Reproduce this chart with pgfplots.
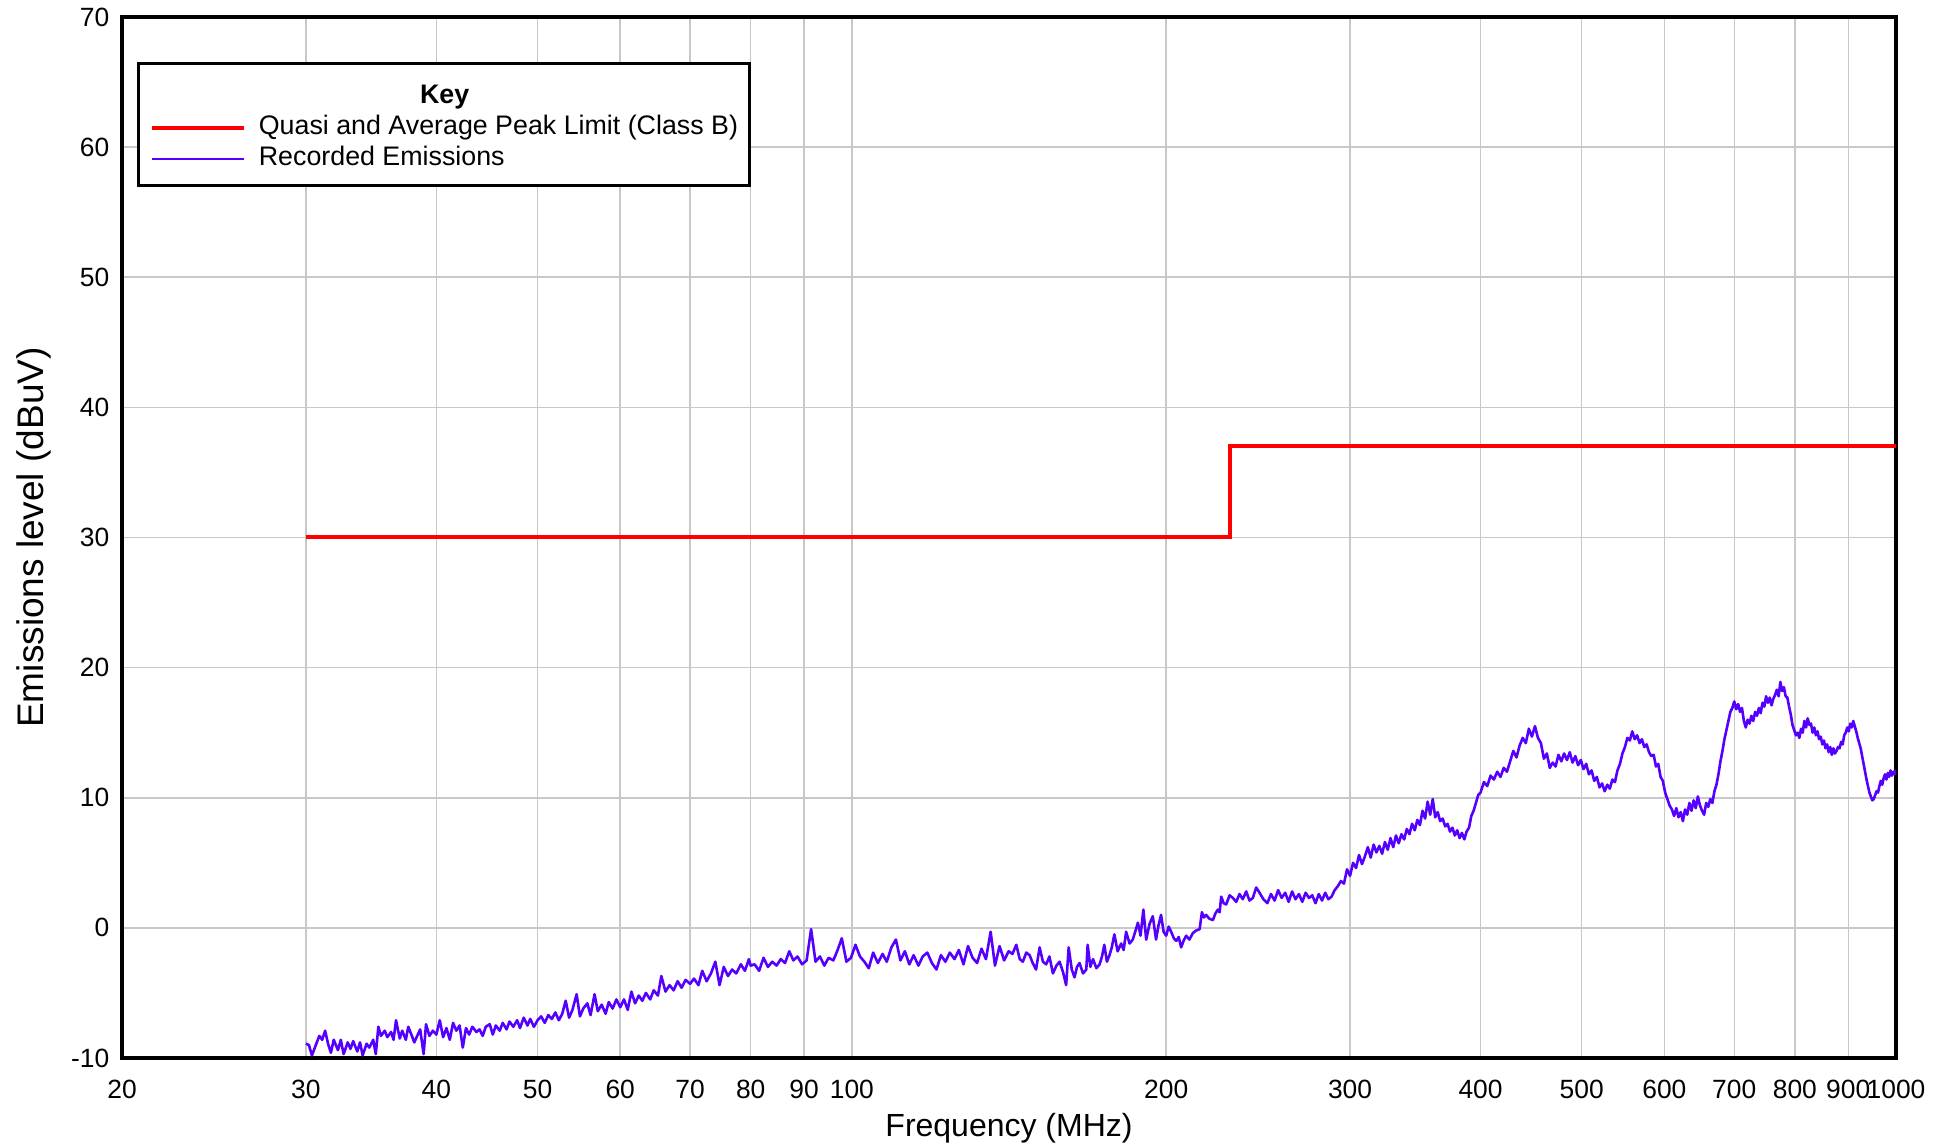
\documentclass[border=0pt]{standalone}
\usepackage{fontspec}
\setmainfont{Liberation Sans}
\usepackage{pgfplots}
\pgfplotsset{compat=1.18}
\definecolor{limred}{RGB}{255,0,0}
\definecolor{emblue}{RGB}{85,0,255}
\definecolor{gridgray}{RGB}{200,200,200}
\begin{document}
\begin{tikzpicture}
\useasboundingbox (-61pt,-43.5pt) rectangle (915pt,529pt);
\begin{axis}[
  at={(0,0)}, anchor=south west,
  scale only axis, width=887pt, height=520.5pt,
  xmode=log, xmin=20, xmax=1000, ymin=-10, ymax=70,
  xtick={20,30,40,50,60,70,80,90,100,200,300,400,500,600,700,800,900,1000},
  xticklabels={20,30,40,50,60,70,80,90,100,200,300,400,500,600,700,800,900,1000},
  minor xtick={},
  ytick={-10,0,10,20,30,40,50,60,70},
  yticklabels={-10,0,10,20,30,40,50,60,70},
  grid=major,
  major grid style={draw=gridgray, line width=0.75pt},
  axis line style={line width=1.9pt},
  major tick length=0pt, minor tick length=0pt,
  xticklabel style={font=\fontsize{13.2}{15}\selectfont, anchor=center, yshift=-15.5pt},
  yticklabel style={font=\fontsize{13.2}{15}\selectfont, anchor=east, inner sep=0pt, xshift=-6.2pt},
  xlabel={Frequency (MHz)},
  xlabel style={at={(axis description cs:0.5,-0.067)}, anchor=center, font=\fontsize{16}{19}\selectfont},
  ylabel={Emissions level (dBuV)},
  ylabel style={at={(axis description cs:-0.0495,0.5)}, anchor=center, font=\fontsize{18.5}{22}\selectfont},
  legend image code/.code={\draw[#1] (0pt,-1.6pt) -- (46pt,-1.6pt);},
  legend cell align=left,
  legend style={at={(axis description cs:0.0085,0.9568)}, anchor=north west,
    draw=black, line width=1.6pt, fill=white,
    inner xsep=5.8pt, inner ysep=7pt, row sep=0pt, column sep=6.3pt,
    nodes={inner sep=0pt, text height=12.9pt, text depth=2.7pt, font=\fontsize{13.4}{15.6}\selectfont}},
]
\addlegendimage{empty legend}
\addlegendentry{\hspace*{92.9pt}\makebox[0pt][c]{\bfseries Key}}

\addplot[limred, line width=2pt] coordinates {(30,30) (230,30) (230,37) (1000,37)};
\addlegendentry{Quasi and Average Peak Limit (Class B)}

\addlegendimage{emblue, line width=0.8pt}
\addlegendentry{Recorded Emissions}

\addplot[emblue, line width=1.3pt, line join=round, forget plot] table {
f v
30.0 -8.9
30.2 -9.0
30.4 -9.8
30.6 -9.2
30.9 -8.3
31.1 -8.6
31.3 -7.9
31.5 -8.9
31.7 -9.6
31.9 -8.6
32.2 -9.4
32.4 -8.6
32.6 -9.7
32.9 -8.8
33.1 -9.3
33.3 -8.7
33.6 -9.5
33.8 -8.8
34.0 -9.8
34.3 -8.9
34.5 -9.2
34.8 -8.6
35.0 -9.7
35.2 -7.6
35.4 -8.3
35.7 -7.9
35.9 -8.4
36.2 -8.0
36.4 -8.6
36.6 -7.1
36.9 -8.5
37.1 -7.9
37.4 -8.6
37.6 -7.6
37.9 -8.3
38.1 -8.8
38.4 -8.2
38.6 -7.8
38.9 -9.7
39.1 -7.4
39.4 -8.3
39.7 -7.9
40.0 -8.2
40.3 -7.1
40.6 -8.4
40.9 -7.7
41.2 -8.6
41.5 -7.3
41.8 -7.9
42.1 -7.5
42.4 -9.2
42.7 -7.7
43.0 -8.2
43.3 -7.6
43.7 -8.0
44.0 -7.8
44.3 -8.3
44.6 -7.6
45.0 -7.4
45.3 -8.2
45.6 -7.5
46.0 -7.9
46.3 -7.3
46.7 -7.8
47.0 -7.2
47.4 -7.6
47.8 -7.1
48.1 -7.7
48.5 -6.9
48.9 -7.5
49.2 -7.0
49.6 -7.6
50.0 -7.1
50.4 -6.8
50.8 -7.3
51.2 -6.7
51.6 -7.0
52.0 -6.5
52.4 -7.1
52.8 -6.6
53.2 -5.6
53.6 -6.9
54.0 -6.3
54.5 -5.1
54.9 -6.8
55.3 -6.2
55.8 -5.8
56.2 -6.7
56.7 -5.1
57.1 -6.4
57.6 -5.9
58.1 -6.6
58.5 -5.7
59.0 -6.2
59.5 -5.5
60.0 -6.1
60.5 -5.5
61.0 -6.3
61.5 -4.9
62.0 -5.8
62.5 -5.2
63.0 -5.6
63.5 -5.0
64.1 -5.5
64.6 -4.8
65.2 -5.2
65.7 -3.7
66.3 -4.9
66.9 -4.4
67.5 -4.8
68.1 -4.1
68.7 -4.6
69.3 -4.0
70.0 -4.3
70.6 -3.9
71.3 -4.4
71.9 -3.3
72.6 -4.1
73.3 -3.5
74.0 -2.6
74.7 -4.4
75.4 -3.0
76.1 -3.7
76.8 -3.2
77.5 -3.5
78.3 -2.8
79.0 -3.3
79.7 -2.4
80.0 -2.9
80.7 -2.8
81.5 -3.3
82.3 -2.3
83.1 -3.0
83.9 -2.6
84.7 -2.9
85.5 -2.4
86.3 -2.7
87.1 -1.8
87.9 -2.5
88.7 -2.2
89.6 -2.8
90.5 -2.5
91.4 -0.1
92.3 -2.6
93.2 -2.2
94.1 -2.9
95.0 -2.3
96.0 -2.5
96.9 -1.7
97.8 -0.8
98.8 -2.6
99.8 -2.3
100.8 -1.3
101.8 -2.2
102.8 -2.6
103.8 -3.1
104.8 -1.9
105.9 -2.7
107.0 -2.0
108.0 -2.6
109.1 -1.5
110.2 -0.9
111.3 -2.5
112.4 -1.8
113.5 -2.8
114.6 -2.1
115.8 -2.9
116.9 -2.2
118.1 -1.9
119.3 -2.7
120.5 -3.2
121.7 -2.1
122.9 -2.6
124.1 -1.9
125.4 -2.4
126.6 -1.7
127.9 -2.8
129.2 -1.4
130.5 -2.3
131.8 -2.7
133.1 -1.6
134.4 -2.4
135.8 -0.3
137.1 -2.9
138.5 -1.4
139.9 -2.5
141.3 -1.8
142.5 -2.0
143.7 -1.3
144.8 -2.4
145.8 -2.6
146.9 -1.9
148.0 -2.1
149.0 -2.7
150.1 -3.2
151.3 -1.5
152.4 -2.6
153.5 -2.8
154.6 -2.2
155.8 -3.5
157.0 -2.9
158.1 -2.6
159.3 -3.4
160.4 -4.4
161.3 -1.5
162.4 -3.2
163.4 -3.8
164.3 -3.0
165.2 -2.7
166.5 -3.5
167.7 -3.2
168.2 -1.3
169.2 -3.0
170.2 -2.4
171.5 -3.1
172.7 -2.8
173.6 -2.2
174.5 -1.3
175.5 -2.6
176.5 -2.1
177.4 -1.5
178.4 -0.5
179.7 -1.8
181.1 -1.2
182.1 -1.7
183.1 -0.3
184.5 -1.2
185.8 -0.9
186.8 -0.3
187.9 0.4
189.0 -0.6
190.2 1.4
191.4 -0.9
192.8 0.3
194.2 0.9
195.6 -0.9
196.7 0.2
197.8 1.0
198.9 -0.3
200.0 -0.6
201.1 0.1
202.2 -0.3
203.4 -0.8
204.5 -1.0
205.6 -0.7
206.7 -1.5
207.8 -1.0
209.0 -0.6
210.5 -0.9
212.1 -0.4
213.7 -0.2
215.3 -0.1
216.4 1.2
217.4 0.8
218.4 1.0
220.0 0.7
221.7 0.6
222.9 1.1
224.1 1.4
225.0 1.2
225.8 2.4
227.0 1.9
228.3 1.8
230.0 2.5
231.7 2.3
233.4 2.0
235.1 2.6
236.8 2.2
238.6 2.8
240.3 2.1
242.1 2.3
243.9 3.1
245.7 2.7
247.8 2.2
250.0 1.9
252 2.6
254 2.1
256 2.9
258 2.3
260 2.7
262 2.0
264 2.8
266 2.2
268 2.6
270 2.0
272 2.7
274 2.3
276 2.5
278 1.9
280 2.6
282 2.1
284 2.7
286 2.2
288 2.4
290 2.9
292 3.2
294 3.6
296 3.4
298 4.5
300 4.0
302 5.0
304 4.6
306 5.6
308 4.9
310 5.5
312 6.2
314 5.4
316 6.4
318 5.8
320 6.3
322 5.7
324 6.6
326 6.0
328 6.9
330 6.2
332 7.1
334 6.5
336 7.2
338 6.8
340 7.6
342 7.2
344 8.0
346 7.5
348 8.3
350 7.9
352 9.0
354 8.4
356 9.7
358 8.7
360 9.9
362 8.5
364 8.9
366 8.2
368 8.4
370 7.8
372 8.0
374 7.4
376 7.7
378 7.1
380 7.5
382 6.9
384 7.3
386 6.8
388 7.4
390 7.7
392 8.6
394 9.0
396 9.6
398 10.2
400 10.4
403 11.2
406 10.9
409 11.7
412 11.4
415 12.0
418 11.6
421 12.3
424 12.0
427 12.8
430 13.6
433 13.1
436 14.0
439 14.6
442 14.2
445 15.3
448 14.7
451 15.5
454 14.6
457 14.2
460 13.0
463 13.4
466 12.3
469 12.7
472 12.4
475 13.3
478 12.8
481 13.4
484 12.9
487 13.5
490 12.7
493 13.2
496 12.5
499 12.9
502 12.2
505 12.6
508 11.8
511 12.1
514 11.3
517 11.6
520 10.8
523 11.1
526 10.5
529 11.0
532 10.7
535 11.4
538 11.2
541 12.1
544 12.6
547 13.4
550 13.9
553 14.6
556 14.4
559 15.1
562 14.5
565 14.8
568 14.2
571 14.5
574 13.9
577 14.1
580 13.5
583 13.2
586 13.3
589 12.4
592 12.6
595 11.6
598 11.3
601 10.4
604 9.9
607 9.4
610 9.1
613 8.6
616 9.2
619 8.5
622 8.9
625 8.2
628 9.1
631 8.7
634 9.6
637 9.0
640 9.8
643 9.2
646 10.1
649 9.4
652 9.0
655 8.7
658 9.6
661 9.3
664 9.9
667 9.6
670 10.5
673 11.0
676 11.8
679 12.8
682 13.6
685 14.5
688 15.2
691 15.9
694 16.6
697 16.9
700 17.4
703 16.8
706 17.2
709 16.6
712 16.9
715 15.9
718 15.4
721 16.0
724 15.7
727 16.3
730 15.9
733 16.6
736 16.3
739 16.9
742 16.5
745 17.3
748 17.0
751 17.8
754 17.3
757 17.7
760 17.1
763 17.6
766 17.9
769 18.3
772 17.8
775 18.9
778 18.2
781 18.5
784 17.8
787 17.7
790 17.0
793 16.4
796 15.6
799 15.2
802 14.8
805 15.0
808 14.6
811 15.3
814 15.0
817 15.9
820 15.4
823 16.1
826 15.6
829 15.7
832 15.0
835 15.4
838 14.8
841 15.1
844 14.5
847 14.7
850 14.1
853 14.4
856 13.8
859 14.1
862 13.5
865 13.9
868 13.3
871 13.8
874 13.4
877 13.6
880 13.9
883 13.8
886 14.3
889 14.1
892 14.8
895 15.0
898 15.4
901 15.1
904 15.7
907 15.4
910 15.9
913 15.5
916 15.1
919 14.6
922 14.2
925 13.8
928 13.2
931 12.6
934 12.0
937 11.4
940 10.9
943 10.4
946 10.1
949 9.8
952 9.9
955 10.2
958 10.5
961 10.4
964 10.9
967 11.3
970 11.0
973 11.5
976 11.8
979 11.4
982 11.9
985 11.6
988 12.1
991 11.7
994 12.0
997 11.8
1000 12.1
};
\end{axis}
\end{tikzpicture}
\end{document}
